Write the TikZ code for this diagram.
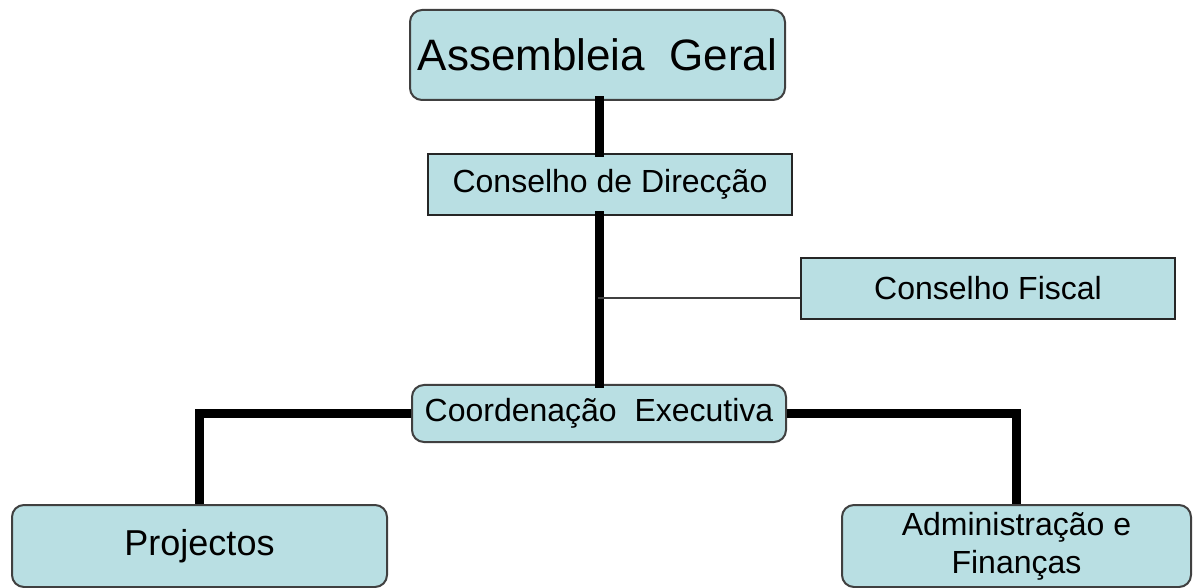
\documentclass[tikz,border=0pt]{standalone}
\usepackage{fontspec}
\setmainfont{Liberation Sans}
\usetikzlibrary{positioning}

\definecolor{boxfill}{RGB}{185,223,227}
\definecolor{boxline}{RGB}{64,64,64}

\begin{document}
\begin{tikzpicture}[x=0.5pt, y=-0.5pt]

  % Set up styles for the chart
  \tikzset{
      orgbox/.style={draw=boxline, line width=1pt, fill=boxfill, inner sep=0pt,
                     align=center, font=\fontsize{16}{19}\selectfont},
      roundbox/.style={orgbox, rounded corners=6pt},
      sharpbox/.style={orgbox, draw=black!85},
      link/.style={line width=4.5pt, line cap=rect},
      thinlink/.style={line width=1pt, draw=boxline}
  }

  \useasboundingbox (0,0) rectangle (1195,588);

  % Boxes
  \node[roundbox, minimum width=187.5pt, minimum height=45pt,
        font=\fontsize{22}{26}\selectfont] (assembleia) at (597.5,55) {Assembleia~ Geral};
  \node[sharpbox, minimum width=182pt, minimum height=30.5pt] (direccao) at (610,184.5) {Conselho de Direcção};
  \node[sharpbox, minimum width=187pt, minimum height=30.5pt] (fiscal) at (988,288.5) {Conselho Fiscal};
  \node[roundbox, minimum width=187pt, minimum height=28.5pt] (coord) at (599,413.5) {Coordenação~ Executiva};
  \node[roundbox, minimum width=187.5pt, minimum height=41pt,
        font=\fontsize{18}{21}\selectfont] (projectos) at (199.5,546) {\raisebox{-2pt}{Projectos}};
  \node[roundbox, minimum width=174.5pt, minimum height=41pt] (admin) at (1016.5,546) {\raisebox{-2pt}{Administração e}\\\raisebox{-2pt}{Finanças}};

  % Connectors
  \coordinate (tap) at (598,298);
  \draw[link] (assembleia.south -| coord.north) -- (coord.north |- direccao.north);
  \draw[link] (coord.north |- direccao.south) -- (coord.north);
  \draw[thinlink] (tap) -- (tap -| fiscal.west);
  \draw[link, line cap=butt] (coord.west) -| (projectos.north);
  \draw[link, line cap=butt] (coord.east) -| (admin.north);

\end{tikzpicture}
\end{document}
